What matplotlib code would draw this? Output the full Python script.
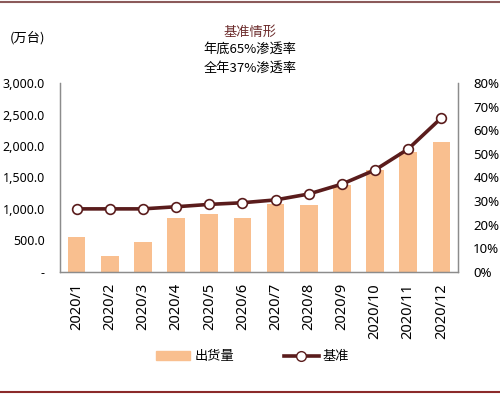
import matplotlib.pyplot as plt
from matplotlib.lines import Line2D
from matplotlib.patches import Patch
from matplotlib.ticker import FuncFormatter

plt.rcParams['font.family'] = ['Noto Sans CJK SC', 'DejaVu Sans']

months = ['2020/1', '2020/2', '2020/3', '2020/4', '2020/5', '2020/6',
          '2020/7', '2020/8', '2020/9', '2020/10', '2020/11', '2020/12']
shipments = [551, 259, 481, 852, 921, 862, 1075, 1059, 1381, 1620, 1910, 2068]
baseline = [26.7, 26.7, 26.7, 27.6, 28.6, 29.3, 30.5, 33.0, 37.2, 43.2, 52.1, 65.3]
title_lines = ['基准情形', '年底65%渗透率', '全年37%渗透率']

bar_color = '#f9bf8f'
line_color = '#5a1c1c'
axis_grey = '#8c8c8c'

fig = plt.figure(figsize=(5, 3.94), dpi=100)
ax = fig.add_axes([0.12, 0.31, 0.796, 0.479])
x = range(len(months))
bars = ax.bar(x, shipments, width=0.53, color=bar_color, zorder=2)
ax.set_xlim(-0.5, len(months) - 0.5)
ax.set_ylim(0, 3000)
ax.set_yticks(range(0, 3001, 500))
ax.yaxis.set_major_formatter(FuncFormatter(lambda v, p: '-' if v == 0 else '{:,.1f}'.format(v)))
ax.set_xticks(list(x))
ax.set_xticklabels(months, rotation=90, fontsize=10.5, family='Noto Sans')
ax.tick_params(axis='y', length=0, pad=11, labelsize=9)
ax.tick_params(axis='x', length=0, pad=8)
for lab in ax.get_yticklabels():
    lab.set_family('Noto Sans')

ax2 = ax.twinx()
line, = ax2.plot(x, baseline, '-o', color=line_color, lw=2.6, ms=7,
                 markerfacecolor='white', markeredgecolor=line_color,
                 markeredgewidth=1.2, zorder=3)
ax2.set_ylim(0, 80)
ax2.set_yticks(range(0, 81, 10))
ax2.yaxis.set_major_formatter(FuncFormatter(lambda v, p: '{:.0f}%'.format(v)))
ax2.tick_params(length=0, pad=11, labelsize=9.5)
for lab in ax2.get_yticklabels():
    lab.set_family('Noto Sans')

for a in (ax, ax2):
    a.spines['top'].set_visible(False)
    for s in ('left', 'right', 'bottom'):
        a.spines[s].set_color(axis_grey)
        a.spines[s].set_linewidth(0.9)

fig.text(0.5, 0.918, title_lines[0], ha='center', va='center', fontsize=9.5, color='#6b2a2a')
fig.text(0.5, 0.876, title_lines[1], ha='center', va='center', fontsize=9.5)
fig.text(0.5, 0.828, title_lines[2], ha='center', va='center', fontsize=9.5)
fig.text(0.02, 0.905, '(万台)', ha='left', va='center', fontsize=9.5)

handles = [Patch(color=bar_color),
           Line2D([], [], color=line_color, lw=2.6, marker='o', ms=7,
                  markerfacecolor='white', markeredgecolor=line_color)]
fig.legend(handles, ['出货量', '基准'], loc='center', bbox_to_anchor=(0.505, 0.094),
           ncol=2, frameon=False, fontsize=9.5, handlelength=2.6, columnspacing=3.8,
           handletextpad=0.3)

fig.add_artist(Line2D([0, 1], [0.996, 0.996], color='#8b5a5a', lw=1.5))
fig.add_artist(Line2D([0, 1], [0.006, 0.006], color='#8b2a2a', lw=1.5))

fig.savefig('out.png', dpi=100)
